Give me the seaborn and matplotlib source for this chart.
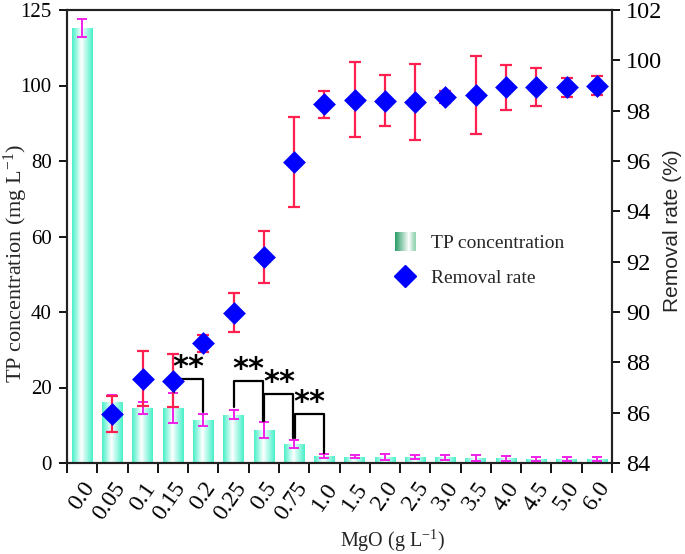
import numpy as np
import pandas as pd
import matplotlib
matplotlib.use("Agg")
import matplotlib.pyplot as plt
import seaborn as sns
from matplotlib.colors import LinearSegmentedColormap
from matplotlib.legend_handler import HandlerBase
from matplotlib.patches import Rectangle
from matplotlib.lines import Line2D

# ---------------- data ----------------
mgo_doses = ["0.0", "0.05", "0.1", "0.15", "0.2", "0.25", "0.5", "0.75", "1.0",
             "1.5", "2.0", "2.5", "3.0", "3.5", "4.0", "4.5", "5.0", "6.0"]
tp_conc = [115.2, 16.1, 14.6, 14.6, 11.4, 12.8, 8.8, 5.0, 1.9,
           1.6, 1.6, 1.6, 1.5, 1.4, 1.2, 1.1, 1.1, 1.1]
tp_err = [2.4, 1.8, 1.6, 4.0, 1.7, 1.2, 2.1, 1.1, 0.5,
          0.4, 0.7, 0.5, 0.7, 0.8, 0.6, 0.5, 0.6, 0.6]
removal = [None, 85.95, 87.35, 87.27, 88.75, 89.98, 92.19, 95.96, 98.25,
           98.44, 98.40, 98.35, 98.54, 98.63, 98.93, 98.93, 98.93, 99.00]
removal_err = [None, 0.7, 1.1, 1.05, 0.35, 0.79, 1.03, 1.8, 0.55,
               1.5, 1.0, 1.5, 0.25, 1.55, 0.9, 0.75, 0.38, 0.37]
left_ticks = [0, 20, 40, 60, 80, 100, 120]
left_ticklabels = ["0", "20", "40", "60", "80", "100", "125"]
right_ticks = [84, 86, 88, 90, 92, 94, 96, 98, 100, 102]
# significance brackets: (left bar index, right bar index, bracket height,
#                         left leg end, right leg end)
brackets = [(3, 4, 22.3, 18.9, 13.6),
            (5, 6, 21.7, 14.9, 11.2),
            (6, 7, 18.2, 11.2, 6.6),
            (7, 8, 12.9, 6.6, 2.6)]

# ---------------- style ----------------
sns.set_theme(style="ticks")
plt.rcParams["font.family"] = ["Liberation Serif", "DejaVu Serif"]
plt.rcParams["mathtext.fontset"] = "custom"
plt.rcParams["mathtext.rm"] = "Liberation Serif"
plt.rcParams["mathtext.it"] = "Liberation Serif:italic"

fig = plt.figure(figsize=(6.85, 5.54), dpi=100)
ax = fig.add_axes([67 / 685, 1 - 463 / 554, (612 - 67) / 685, (463 - 10) / 554])

df = pd.DataFrame({"dose": mgo_doses, "tp": tp_conc})
sns.barplot(data=df, x="dose", y="tp", order=mgo_doses, color="#5ef2d0",
            width=0.68, ax=ax, errorbar=None, saturation=1, linewidth=0)

# gradient fill for bars
cmap = LinearSegmentedColormap.from_list(
    "aq", [(0, "#48f0c8"), (0.45, "#ffffff"), (1, "#48f0c8")])
grad = np.linspace(0, 1, 64).reshape(1, -1)
for p in list(ax.patches):
    x0, y0 = p.get_x(), p.get_y()
    w, h = p.get_width(), p.get_height()
    im = ax.imshow(grad, cmap=cmap, extent=[x0, x0 + w, y0, y0 + h],
                   aspect="auto", origin="lower", zorder=p.get_zorder() + 0.1)
    im.set_clip_path(p)

n = len(mgo_doses)
pos = np.arange(n)
ax.errorbar(pos, tp_conc, yerr=tp_err, fmt="none", ecolor="#f020e8",
            elinewidth=1.4, capsize=3.5, capthick=1.4, zorder=5)

ax.set_xlim(-0.5, n - 0.5)
ax.set_ylim(0, 120)
ax.set_yticks(left_ticks)
ax.set_yticklabels(left_ticklabels)
# major ticks at category boundaries, labels at centers (minor)
ax.set_xticks(np.arange(n + 1) - 0.5)
ax.set_xticklabels([""] * (n + 1))
ax.set_xticks(pos, minor=True)
ax.set_xticklabels(mgo_doses, minor=True)
for lbl in ax.get_xticklabels(minor=True):
    lbl.set_rotation(55)
    lbl.set_ha("right")
    lbl.set_va("top")
    lbl.set_rotation_mode("anchor")
ax.tick_params(axis="y", labelsize=15, direction="out", width=1.3,
               length=6, pad=5, colors="black")
ax.tick_params(axis="x", which="major", length=7, width=1.3,
               direction="out", colors="black")
ax.tick_params(axis="x", which="minor", length=0, pad=11, labelsize=17,
               colors="black")
for s in ax.spines.values():
    s.set_linewidth(1.5)
    s.set_color("#222222")
ax.set_xlabel("MgO (g L$^{-1}$)", fontsize=14.5)
ax.xaxis.set_label_coords(0.598, -0.142)
ax.set_ylabel("TP concentration (mg L$^{-1}$)", fontsize=16)
ax.yaxis.set_label_coords(-0.068, 0.44)

# brackets
for i, j, hgt, le, re in brackets:
    xl, xr = i + 0.02, j - 0.02
    ax.plot([xl, xl, xr, xr], [le, hgt, hgt, re], color="black", lw=1.6,
            zorder=6)
    ax.text((xl + xr) / 2, hgt - 0.8, "**", ha="center", va="bottom",
            fontsize=22, fontweight="bold", color="black", zorder=6,
            family="DejaVu Sans")

# right axis
ax2 = ax.twinx()
rm = [(p_, v, e) for p_, v, e in zip(pos, removal, removal_err) if v is not None]
rx = [a for a, _, _ in rm]
ry = [b for _, b, _ in rm]
re_ = [c for _, _, c in rm]
ax2.errorbar(rx, ry, yerr=re_, fmt="none", ecolor="#ff2050", elinewidth=1.6,
             capsize=4, capthick=1.6, zorder=3)
sns.scatterplot(x=rx, y=ry, marker="D", s=135, color="#0000ff",
                edgecolor="#0000ff", linewidth=0, ax=ax2, zorder=4)
ax2.set_ylim(84, 102)
ax2.set_yticks(right_ticks)
ax2.tick_params(axis="y", labelsize=17.5, direction="out", width=1.3,
                length=6, pad=4, colors="black")
for s in ax2.spines.values():
    s.set_linewidth(1.5)
    s.set_color("#222222")
ax2.set_ylabel("Removal rate (%)", fontsize=15, family="Liberation Sans")
ax2.yaxis.set_label_coords(1.094, 0.512)
ax2.set_xlim(-0.5, n - 0.5)


class GradientHandler(HandlerBase):
    def create_artists(self, legend, orig_handle, xdescent, ydescent, width,
                       height, fontsize, trans):
        gcm = LinearSegmentedColormap.from_list(
            "g", [(0, "#2e9e6a"), (0.7, "#ffffff"), (1, "#9ad6b8")])
        arts = []
        k_n = 20
        w = width * 0.8
        x0 = -xdescent + (width - w) / 2
        hh = height * 1.4
        y0 = -ydescent - (hh - height) / 2
        for k in range(k_n):
            r = Rectangle((x0 + k * w / k_n, y0), w / k_n + 0.3, hh,
                          facecolor=gcm(k / (k_n - 1)), edgecolor="none",
                          transform=trans)
            arts.append(r)
        return arts


grad_handle = Rectangle((0, 0), 1, 1)
dia = Line2D([], [], marker="D", color="#0000ff", linestyle="none",
             markersize=11)
leg = ax2.legend([grad_handle, dia], ["TP concentration", "Removal rate"],
                 handler_map={Rectangle: GradientHandler()},
                 loc="upper left", bbox_to_anchor=(0.565, 0.543), frameon=False,
                 fontsize=14, handlelength=1.3, handletextpad=0.7,
                 labelspacing=0.9)

fig.savefig("out.png", dpi=100)
